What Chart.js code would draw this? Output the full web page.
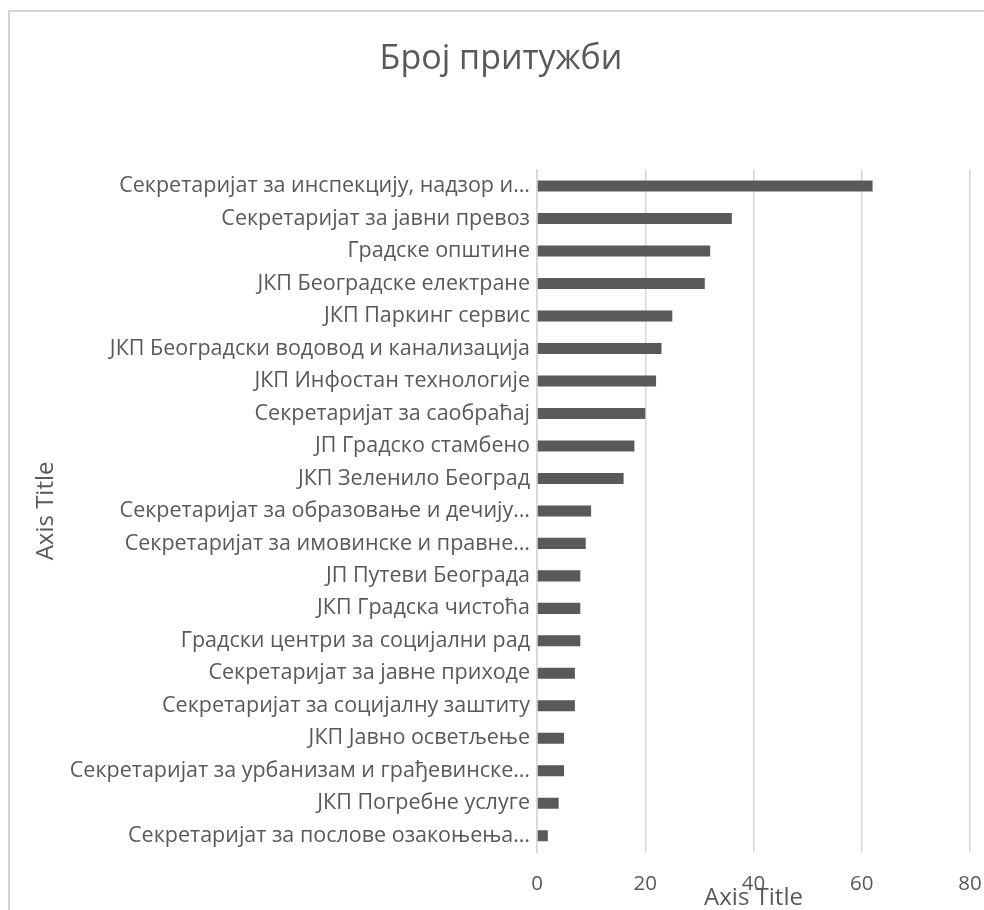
<!DOCTYPE html>
<html>
<head>
<meta charset="utf-8">
<title>Број притужби</title>
<script src="https://cdn.jsdelivr.net/npm/chart.js@4"></script>
<style>
  html, body { margin: 0; padding: 0; background: #fff; overflow: hidden; }
  #frame {
    position: absolute; left: 8px; top: 10px;
    width: 1200px; height: 1200px;
    border-left: 2px solid #d4d4d4; border-top: 2px solid #d4d4d4;
  }
  #chart { position: absolute; left: 0; top: 0; }
</style>
</head>
<body>
<div id="frame"></div>
<canvas id="chart" width="984" height="910"></canvas>
<script>
// categories, top to bottom
const institutions = [
  "Секретаријат за инспекцију, надзор и…",
  "Секретаријат за јавни превоз",
  "Градске општине",
  "ЈКП Београдске електране",
  "ЈКП Паркинг сервис",
  "ЈКП Београдски водовод и канализација",
  "ЈКП Инфостан технологије",
  "Секретаријат за саобраћај",
  "ЈП Градско стамбено",
  "ЈКП Зеленило Београд",
  "Секретаријат за образовање и дечију…",
  "Секретаријат за имовинске и правне…",
  "ЈП Путеви Београда",
  "ЈКП Градска чистоћа",
  "Градски центри за социјални рад",
  "Секретаријат за јавне приходе",
  "Секретаријат за социјалну заштиту",
  "ЈКП Јавно осветљење",
  "Секретаријат за урбанизам и грађевинске…",
  "ЈКП Погребне услуге",
  "Секретаријат за послове озакоњења…"
];
const complaints = [62, 36, 32, 31, 25, 23, 22, 20, 18, 16, 10, 9, 8, 8, 8, 7, 7, 5, 5, 4, 2];
const xTicks = [0, 20, 40, 60, 80];

const textColor = "#595959";
const fontFamily = "'Open Sans', sans-serif";

new Chart(document.getElementById("chart"), {
  type: "bar",
  data: {
    labels: institutions,
    datasets: [{
      label: "Број притужби",
      data: complaints,
      backgroundColor: "#595959",
      borderWidth: 0,
      barPercentage: 0.34,
      categoryPercentage: 1
    }]
  },
  options: {
    indexAxis: "y",
    responsive: false,
    animation: false,
    devicePixelRatio: 1,
    layout: { padding: { left: 32, right: 14, top: 0, bottom: 0 } },
    plugins: {
      legend: { display: false },
      tooltip: { enabled: false },
      title: {
        display: true,
        text: "Број притужби",
        color: textColor,
        font: { family: fontFamily, size: 34, weight: "normal" },
        padding: { top: 39, bottom: 90 }
      }
    },
    scales: {
      x: {
        min: 0,
        max: 80,
        afterBuildTicks: (scale) => { scale.ticks = xTicks.map((v) => ({ value: v })); },
        afterFit: (scale) => {
          // fixed height so the axis title overlaps the tick labels like the original
          scale.height = 58;
          scale.paddingLeft = 0;
          scale.paddingRight = 0;
        },
        grid: { color: "#d6d6d6", lineWidth: 1.5, drawTicks: false },
        border: { display: false },
        ticks: {
          padding: 20,
          color: textColor,
          font: { family: fontFamily, size: 20.5 }
        },
        title: {
          display: true,
          text: "Axis Title",
          color: textColor,
          font: { family: fontFamily, size: 24 },
          padding: { top: 0, bottom: -3 }
        }
      },
      y: {
        afterFit: (scale) => { scale.width = 505; },
        grid: { display: false, drawTicks: false },
        border: { display: true, color: "#d6d6d6", width: 1.5 },
        ticks: {
          padding: 7,
          color: textColor,
          autoSkip: false,
          font: { family: fontFamily, size: 21.5 }
        },
        title: {
          display: true,
          text: "Axis Title",
          color: textColor,
          font: { family: fontFamily, size: 24 },
          padding: { top: 0, bottom: 0 }
        }
      }
    }
  }
});
</script>
</body>
</html>
